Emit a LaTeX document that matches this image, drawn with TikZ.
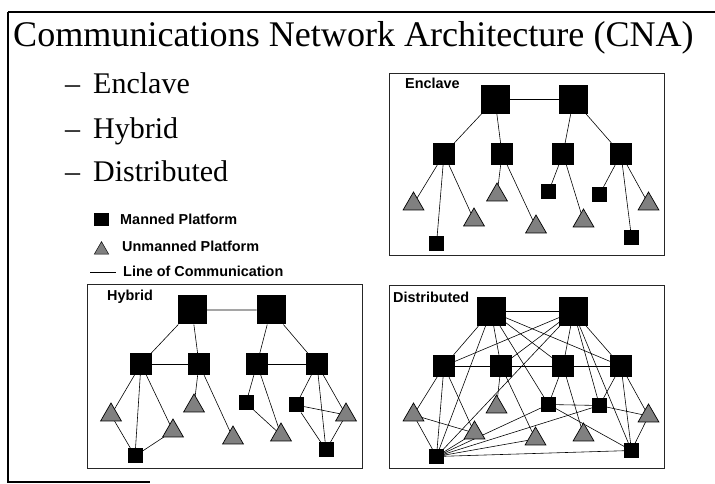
\documentclass[tikz,border=0pt]{standalone}
\usepackage{fontspec}
\setmainfont{Liberation Serif}
\newfontfamily\labelfont{Liberation Sans}
\usetikzlibrary{shapes.geometric, backgrounds}

\begin{document}
\begin{tikzpicture}[x=0.03cm, y=-0.03cm,
    manned/.style={fill=black, inner sep=0pt, outer sep=0pt},
    bigsq/.style={manned, minimum size=0.87cm},
    midsq/.style={manned, minimum size=0.66cm},
    smallsq/.style={manned, minimum size=0.45cm},
    unmanned/.style={regular polygon, regular polygon sides=3, draw=black, fill=black!50,
        line width=0.6pt, inner sep=0pt, outer sep=0pt, minimum size=0.72cm},
    link/.style={draw=black, line width=0.5pt},
    panel/.style={draw=black!85, line width=0.8pt},
    sanslabel/.style={font=\labelfont\bfseries\fontsize{12.3}{14}\selectfont, anchor=base west, inner sep=0pt},
    bullet/.style={font=\fontsize{25.6}{30}\selectfont, anchor=base west, inner sep=0pt}]
    \useasboundingbox (0,0) rectangle (715,484);

    % slide frame
    \draw[line width=1.2pt] (715,12) -- (8,12);
    \draw[line width=2pt] (8,12) -- (8,482) -- (150,482);

    % title and list
    \node[anchor=base west, inner sep=0pt, font=\fontsize{30.8}{36}\selectfont] (title) at (13,47) {Communications Network Architecture (CNA)};
    \node[bullet] (enclave) at (65,94) {–\hspace{0.39cm}Enclave};
    \node[bullet] (hybrid) at (65,139) {–\hspace{0.39cm}Hybrid};
    \node[bullet] (distributed) at (65,182) {–\hspace{0.39cm}Distributed};

    % legend
    \node[manned, minimum width=0.45cm, minimum height=0.39cm] (keyman) at (101.5,219.5) {};
    \node[sanslabel] (keymantext) at (120,225) {Manned Platform};
    \node[unmanned, minimum size=0.5cm, line width=0.4pt] (keyunman) at (101.5,250) {};
    \node[sanslabel] (keyunmantext) at (122,252) {Unmanned Platform};
    \draw[link] (90,272) -- (116,272);
    \node[sanslabel] (keylinetext) at (123,277) {Line of Communication};

    % Enclave
    \draw[panel] (389,73) rectangle (664,255);
    \node[sanslabel] (enclavetitle) at (405,89) {Enclave};
    \node[bigsq] (eT1) at (495,99.5) {};
    \node[bigsq] (eT2) at (573.5,99.5) {};
    \node[midsq] (eM1) at (444,154) {};
    \node[midsq] (eM2) at (502,154) {};
    \node[midsq] (eM3) at (563,154) {};
    \node[midsq] (eM4) at (621,154) {};
    \node[unmanned] (eU1) at (413.5,204) {};
    \node[smallsq] (eS1) at (436.5,244) {};
    \node[unmanned] (eU2) at (474,220) {};
    \node[unmanned] (eU3) at (497,195) {};
    \node[unmanned] (eU4) at (536,227) {};
    \node[smallsq] (eS2) at (548.5,192) {};
    \node[unmanned] (eU5) at (583.5,221) {};
    \node[smallsq] (eS3) at (599.5,194.5) {};
    \node[smallsq] (eS4) at (631.5,237.5) {};
    \node[unmanned] (eU6) at (648.5,204) {};

    % Hybrid
    \draw[panel] (87,284) rectangle (362,468);
    \node[sanslabel] (hybridtitle) at (107,301) {Hybrid};
    \node[bigsq] (hT1) at (192,310) {};
    \node[bigsq] (hT2) at (271,310) {};
    \node[midsq] (hM1) at (141,364) {};
    \node[midsq] (hM2) at (199,364) {};
    \node[midsq] (hM3) at (257,364) {};
    \node[midsq] (hM4) at (317,364) {};
    \node[unmanned] (hU1) at (111,415) {};
    \node[unmanned] (hU2) at (173,431) {};
    \node[smallsq] (hS1) at (135,456) {};
    \node[unmanned] (hU3) at (194,406) {};
    \node[unmanned] (hU4) at (233,438) {};
    \node[smallsq] (hS2) at (246,403) {};
    \node[unmanned] (hU5) at (281,435) {};
    \node[smallsq] (hS3) at (296,405) {};
    \node[unmanned] (hU6) at (346,415) {};
    \node[smallsq] (hS4) at (326,450) {};

    % Distributed
    \draw[panel] (389,285) rectangle (664,468);
    \node[sanslabel] (distributedtitle) at (393,303) {Distributed};
    \node[bigsq] (dT1) at (491,311.5) {};
    \node[bigsq] (dT2) at (573.5,311.5) {};
    \node[midsq] (dM1) at (444,366) {};
    \node[midsq] (dM2) at (501,366) {};
    \node[midsq] (dM3) at (563,366) {};
    \node[midsq] (dM4) at (621,366) {};
    \node[unmanned] (dU1) at (413.5,415) {};
    \node[unmanned] (dU2) at (474.5,433) {};
    \node[smallsq] (dSL) at (436.5,456.5) {};
    \node[unmanned] (dU3) at (496.5,407) {};
    \node[unmanned] (dU4) at (535.5,439) {};
    \node[smallsq] (dS5) at (548.5,404.5) {};
    \node[unmanned] (dU5) at (583.5,435) {};
    \node[smallsq] (dS6) at (599.5,405.5) {};
    \node[unmanned] (dU6) at (648.5,416) {};
    \node[smallsq] (dSR) at (631.5,450.5) {};

    \begin{scope}[on background layer]
    % Enclave links
    \draw[link] (eT1) -- (eT2) (eT1) -- (eM1) (eT1) -- (eM2) (eT2) -- (eM3) (eT2) -- (eM4);
    \draw[link] (eM1) -- (eU1) (eM1) -- (eS1) (eM1) -- (eU2);
    \draw[link] (eM2) -- (eU3) (eM2) -- (eU4);
    \draw[link] (eM3) -- (eS2) (eM3) -- (eU5);
    \draw[link] (eM4) -- (eS3) (eM4) -- (eS4) (eM4) -- (eU6);

    % Hybrid links
    \draw[link] (hT1) -- (hT2) (hT1) -- (hM1) (hT1) -- (hM2) (hT2) -- (hM3) (hT2) -- (hM4);
    \draw[link] (hM1) -- (hM2) (hM3) -- (hM4);
    \draw[link] (hM1) -- (hU1) (hM1) -- (hS1) (hM1) -- (hU2) (hU1) -- (hS1) (hU2) -- (hS1);
    \draw[link] (hM2) -- (hU3) (hM2) -- (hU4);
    \draw[link] (hM3) -- (hS2) (hM3) -- (hU5) (hS2) -- (hU5);
    \draw[link] (hM4) -- (hS3) (hM4) -- (hS4) (hM4) -- (hU6) (hS3) -- (hU6) (hS3) -- (hS4) (hU6) -- (hS4);

    % Distributed links
    \draw[link] (dT1) -- (dT2);
    \draw[link] (dT1) -- (dM1) (dT1) -- (dM2) (dT1) -- (dM3) (dT1) -- (dM4) (dT1) -- (dSL) (dT1) -- (dS5);
    \draw[link] (dT2) -- (dM1) (dT2) -- (dM2) (dT2) -- (dM3) (dT2) -- (dM4) (dT2) -- (dSL) (dT2) -- (dS6) (dT2) -- (dSR);
    \draw[link] (dM1) -- (dM2) (dM2) -- (dM3) (dM3) -- (dM4);
    \draw[link] (dM1) -- (dU1) (dM1) -- (dSL) (dM1) -- (dU2) (dU1) -- (dSL) (dU1) -- (dU2) (dU2) -- (dSL);
    \draw[link] (dM2) -- (dU3) (dM2) -- (dU4);
    \draw[link] (dSL) -- (dS5) (dSL) -- (dS6) (dSL) -- (dU4) (dSL) -- (dSR);
    \draw[link] (dM3) -- (dS5) (dM3) -- (dU5) (dS5) -- (dS6) (dS5) -- (dSR);
    \draw[link] (dM4) -- (dS6) (dM4) -- (dSR) (dM4) -- (dU6) (dS6) -- (dU6) (dU6) -- (dSR);
    \end{scope}
\end{tikzpicture}
\end{document}
